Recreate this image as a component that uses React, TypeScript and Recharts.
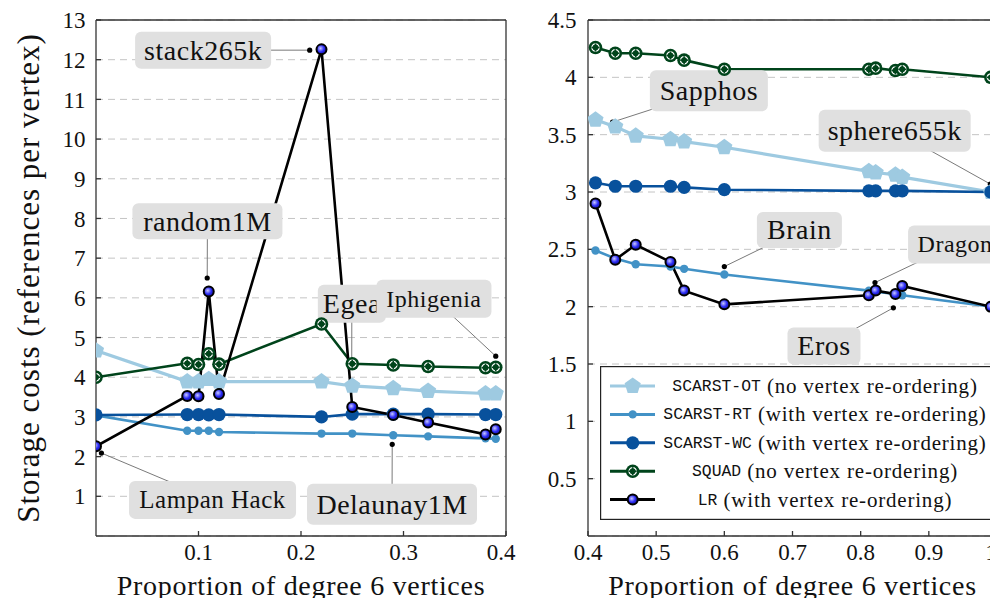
import React from 'react';
import { LineChart, Line, XAxis, YAxis, CartesianGrid, ReferenceLine, ReferenceDot, Legend } from 'recharts';

// left panel (degree-6 proportion < 0.4)
const leftX = [0, 0.089, 0.1, 0.11, 0.12, 0.22, 0.25, 0.29, 0.324, 0.38, 0.39];
const leftOT = [4.67, 3.89, 3.89, 3.95, 3.89, 3.89, 3.78, 3.72, 3.65, 3.59, 3.59];
const leftRT = [3.04, 2.65, 2.65, 2.65, 2.62, 2.58, 2.58, 2.54, 2.51, 2.46, 2.45];
const leftWC = [3.05, 3.06, 3.06, 3.05, 3.06, 3.0, 3.07, 3.07, 3.07, 3.06, 3.06];
const leftSQUAD = [4.0, 4.35, 4.32, 4.59, 4.33, 5.34, 4.34, 4.31, 4.27, 4.24, 4.25];
const leftLR = [2.26, 3.53, 3.52, 6.16, 3.58, 12.26, 3.25, 3.05, 2.86, 2.56, 2.69];

// right panel (degree-6 proportion > 0.4)
const rightX = [0.411, 0.44, 0.47, 0.521, 0.541, 0.6, 0.812, 0.822, 0.851, 0.861, 0.991];
const rightOT = [3.63, 3.57, 3.49, 3.46, 3.44, 3.39, 3.18, 3.17, 3.15, 3.13, 3.0];
const rightRT = [2.49, 2.42, 2.37, 2.35, 2.33, 2.28, 2.14, 2.13, 2.11, 2.1, 2.0];
const rightWC = [3.08, 3.05, 3.05, 3.05, 3.04, 3.02, 3.01, 3.01, 3.01, 3.01, 3.0];
const rightSQUAD = [4.26, 4.21, 4.21, 4.19, 4.15, 4.07, 4.07, 4.08, 4.06, 4.07, 4.0];
const rightLR = [2.9, 2.41, 2.54, 2.39, 2.14, 2.02, 2.1, 2.14, 2.11, 2.18, 2.0];

const seriesKeys = ['ot', 'rt', 'wc', 'squad', 'lr'];
const seriesNames = ['SCARST-OT', 'SCARST-RT', 'SCARST-WC', 'SQUAD', 'LR'];
const seriesNotes = [
  '(no vertex re-ordering)',
  '(with vertex re-ordering)',
  '(with vertex re-ordering)',
  '(no vertex re-ordering)',
  '(with vertex re-ordering)',
];

const leftXTicks = [0.1, 0.2, 0.3, 0.4];
const leftYTicks = [1, 2, 3, 4, 5, 6, 7, 8, 9, 10, 11, 12, 13];
const rightXTicks = [0.4, 0.5, 0.6, 0.7, 0.8, 0.9, 1];
const rightYTicks = [0.5, 1, 1.5, 2, 2.5, 3, 3.5, 4, 4.5];

// named meshes: where the tag sits, and the point it refers to
const leftTags = ['Egea', 'Iphigenia', 'stack265k', 'random1M', 'Lampan Hack', 'Delaunay1M'];
const leftTagAt = [[0.2496, 5.85], [0.3297, 5.98], [0.1045, 12.24], [0.1087, 7.93], [0.1137, 0.91], [0.2888, 0.8]];
const leftTagPoint = [[0.2495, 4.38], [0.39, 4.53], [0.2085, 12.24], [0.1085, 6.5], [0.0053, 2.09], [0.289, 2.31]];

const rightTags = ['Sapphos', 'sphere655k', 'Brain', 'Dragon', 'Eros'];
const rightTagAt = [[0.5773, 3.882], [0.8499, 3.535], [0.7101, 2.669], [0.9385, 2.543], [0.7462, 1.657]];
const rightTagPoint = [[0.436, 3.61], [0.99, 3.07], [0.6, 2.35], [0.821, 2.21], [0.848, 1.99]];

// tag box width, height, font size
const tagBox: Record<string, number[]> = {
  Egea: [68, 38, 28],
  Iphigenia: [115, 38, 24],
  stack265k: [136, 37, 28],
  random1M: [150, 36, 28],
  'Lampan Hack': [167, 38, 25],
  Delaunay1M: [170, 41, 28],
  Sapphos: [118, 41, 28],
  sphere655k: [152, 42, 28],
  Brain: [85, 36, 28],
  Dragon: [94, 38, 24],
  Eros: [73, 37, 28],
};

const COLORS = ['#9ecae1', '#4292c6', '#08519c', '#00441b', '#000000'];
const SERIF = 'Liberation Serif';
const MONO = 'Liberation Mono';

const makeRows = (xs: number[], cols: number[][]) =>
  xs.map((x, i) => {
    const row: any = { x };
    seriesKeys.forEach((k, j) => (row[k] = cols[j][i]));
    return row;
  });

const leftRows = makeRows(leftX, [leftOT, leftRT, leftWC, leftSQUAD, leftLR]);
const rightRows = makeRows(rightX, [rightOT, rightRT, rightWC, rightSQUAD, rightLR]);

// markers
const markers = [
  (p: any) => {
    const r = 8.5;
    const pts = [0, 1, 2, 3, 4]
      .map((i) => {
        const a = ((-90 + 72 * i) * Math.PI) / 180;
        return `${p.cx + r * Math.cos(a)},${p.cy + r * Math.sin(a)}`;
      })
      .join(' ');
    return <polygon key={`ot-${p.index}`} points={pts} fill={COLORS[0]} />;
  },
  (p: any) => <circle key={`rt-${p.index}`} cx={p.cx} cy={p.cy} r={4.2} fill={COLORS[1]} />,
  (p: any) => <circle key={`wc-${p.index}`} cx={p.cx} cy={p.cy} r={6.6} fill={COLORS[2]} />,
  (p: any) => (
    <g key={`sq-${p.index}`}>
      <circle cx={p.cx} cy={p.cy} r={6.8} fill={COLORS[3]} />
      <circle cx={p.cx} cy={p.cy} r={3.6} fill="none" stroke="#fff" strokeWidth={1.3} />
      <line x1={p.cx - 4} x2={p.cx + 4} y1={p.cy} y2={p.cy} stroke={COLORS[3]} strokeWidth={1.6} />
      <line x1={p.cx} x2={p.cx} y1={p.cy - 4} y2={p.cy + 4} stroke={COLORS[3]} strokeWidth={1.6} />
    </g>
  ),
  (p: any) => (
    <circle key={`lr-${p.index}`} cx={p.cx} cy={p.cy} r={5} fill="url(#lrBall)" stroke="#000" strokeWidth={2} />
  ),
];

const tickStyle = { fontFamily: SERIF, fontSize: 23, fill: '#111' };

// bottom tick label, kept inside the drawing when it sits on the edge
const makeXTick = (svgWidth: number) => (p: any) => {
  const label = String(p.payload.value);
  const half = label.length * 6;
  const x = Math.min(p.x, svgWidth - half - 1);
  return (
    <text x={x} y={p.y} dy="0.71em" textAnchor="middle" {...tickStyle}>
      {label}
    </text>
  );
};

const XTitle = (props: any) => {
  const vb = props.viewBox || { x: 0, y: 0, width: 0 };
  return (
    <text x={vb.x + vb.width / 2} y={vb.y + 49} textAnchor="middle" dominantBaseline="central"
      fontFamily={SERIF} fontSize={28} letterSpacing={0.7} fill="#111">
      Proportion of degree 6 vertices
    </text>
  );
};

const YTitle = (props: any) => {
  const vb = props.viewBox || { x: 0, y: 0, height: 0 };
  const x = vb.x + 28;
  const y = vb.y + vb.height / 2;
  return (
    <text x={x} y={y} transform={`rotate(-90 ${x} ${y})`} textAnchor="middle" dominantBaseline="central"
      fontFamily={SERIF} fontSize={31} letterSpacing={1} fill="#111">
      Storage costs (references per vertex)
    </text>
  );
};

const TagBox = ({ cx, cy, text }: any) => {
  const [w, h, fs] = tagBox[text];
  return (
    <g>
      <rect x={cx - w / 2} y={cy - h / 2} width={w} height={h} rx={6} fill="#e0e0e0" />
      <text x={cx} y={cy} textAnchor="middle" dominantBaseline="central" fontFamily={SERIF}
        fontSize={fs} letterSpacing={0.5} fill="#111">
        {text}
      </text>
    </g>
  );
};

const LegendBox = ({ payload }: any) => {
  const items = (payload || [])
    .filter((e: any) => seriesNames.includes(e.value))
    .sort((a: any, b: any) => seriesNames.indexOf(a.value) - seriesNames.indexOf(b.value));
  return (
    <svg width={397} height={154} style={{ display: 'block' }}>
      <rect x={0.6} y={0.6} width={395.8} height={152.8} fill="#fff" stroke="#222" strokeWidth={1.2} />
      {items.map((e: any, i: number) => {
        const idx = seriesNames.indexOf(e.value);
        const y = 20 + i * 28.4;
        return (
          <g key={e.value}>
            <line x1={10} x2={55} y1={y} y2={y} stroke={COLORS[idx]} strokeWidth={3} />
            {markers[idx]({ cx: 32.7, cy: y, index: 'lg' })}
            <text x={225} y={y} textAnchor="middle" dominantBaseline="central" fill="#111">
              <tspan fontFamily={MONO} fontSize={16.4}>{e.value}</tspan>
              <tspan fontFamily={SERIF} fontSize={21} letterSpacing={0.8}>{' ' + seriesNotes[idx]}</tspan>
            </text>
          </g>
        );
      })}
    </svg>
  );
};

const Panel = ({ left, width, yAxisWidth, marginRight, rows, xDomain, yDomain, xTicks, yTicks, tags, tagAt, tagPoint, yTitle, legend, yTickMargin }: any) => (
  <div style={{ position: 'absolute', left, top: 0 }}>
    <LineChart width={width} height={606} data={rows} margin={{ top: 20, right: marginRight, bottom: 0, left: 0 }}>
      <defs>
        <radialGradient id="lrBall" cx="40%" cy="40%" r="65%">
          <stop offset="0%" stopColor="#c8c8ff" />
          <stop offset="55%" stopColor="#2a2af5" />
          <stop offset="100%" stopColor="#14148c" />
        </radialGradient>
      </defs>
      <CartesianGrid vertical={false} strokeDasharray="7 5" stroke="#c4c4c4" />
      <XAxis dataKey="x" type="number" domain={xDomain} ticks={xTicks} interval={0} allowDataOverflow
        height={70} tickSize={-5} tickMargin={12.7} tick={makeXTick(width)} stroke="#333" strokeWidth={1.3}
        label={<XTitle />} />
      <YAxis type="number" domain={yDomain} ticks={yTicks} interval={0} allowDataOverflow
        width={yAxisWidth} tickSize={-5} tickMargin={yTickMargin} tick={tickStyle} stroke="#333" strokeWidth={1.3}
        tickFormatter={(v: number) => String(v)} label={yTitle ? <YTitle /> : undefined} />
      <XAxis xAxisId="top" orientation="top" mirror type="number" dataKey="x" domain={xDomain} ticks={xTicks}
        interval={0} allowDataOverflow tick={false} tickSize={5} stroke="#333" strokeWidth={1.3} />
      <YAxis yAxisId="right" orientation="right" mirror type="number" domain={yDomain} ticks={yTicks}
        interval={0} allowDataOverflow tick={false} tickSize={5} stroke="#333" strokeWidth={1.3} />

      {tags.map((t: string, i: number) => (
        <ReferenceLine key={`c-${t}`} ifOverflow="visible"
          segment={[{ x: tagAt[i][0], y: tagAt[i][1] }, { x: tagPoint[i][0], y: tagPoint[i][1] }]}
          stroke="#7a7a7a" strokeWidth={1} />
      ))}
      {tags.map((t: string, i: number) => (
        <ReferenceDot key={`d-${t}`} ifOverflow="visible" x={tagPoint[i][0]} y={tagPoint[i][1]} r={2.6}
          fill="#000" stroke="none" />
      ))}
      {tags.map((t: string, i: number) => (
        <ReferenceDot key={`b-${t}`} ifOverflow="visible" x={tagAt[i][0]} y={tagAt[i][1]}
          shape={(p: any) => <TagBox cx={p.cx} cy={p.cy} text={t} />} />
      ))}

      {seriesKeys.map((k, j) => (
        <Line key={k} dataKey={k} name={seriesNames[j]} type="linear" stroke={COLORS[j]}
          strokeWidth={j === 0 ? 3.2 : 2.6} dot={markers[j]} activeDot={false} isAnimationActive={false} />
      ))}

      {legend && (
        <Legend layout="vertical" align="center" verticalAlign="middle" content={<LegendBox />}
          wrapperStyle={{ left: 81, top: 365.7, width: 397, height: 154 }} />
      )}
    </LineChart>
  </div>
);

export default function App() {
  return (
    <div style={{ position: 'relative', width: 998, height: 606, margin: -8, background: '#fff', overflow: 'hidden' }}>
      <Panel left={0} width={520} yAxisWidth={96} marginRight={14} rows={leftRows} xDomain={[0, 0.4]}
        yDomain={[0, 13]} xTicks={leftXTicks} yTicks={leftYTicks} tags={leftTags} tagAt={leftTagAt}
        tagPoint={leftTagPoint} yTitle legend={false} yTickMargin={15.5} />
      <Panel left={519} width={479} yAxisWidth={69} marginRight={1} rows={rightRows} xDomain={[0.4, 1]}
        yDomain={[0, 4.5]} xTicks={rightXTicks} yTicks={rightYTicks} tags={rightTags} tagAt={rightTagAt}
        tagPoint={rightTagPoint} yTitle={false} legend yTickMargin={16.5} />
    </div>
  );
}
